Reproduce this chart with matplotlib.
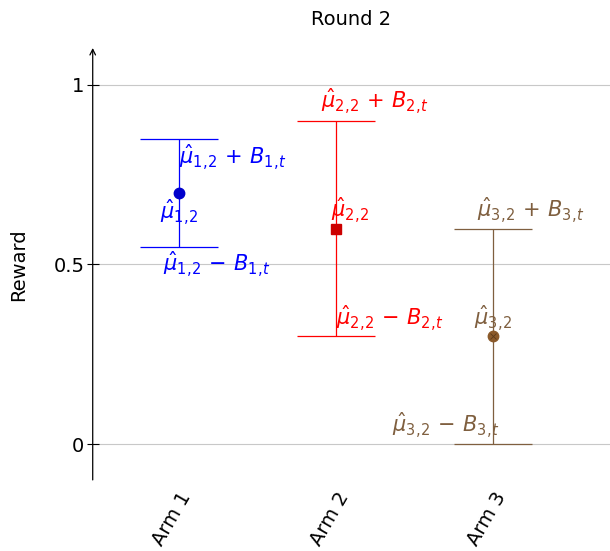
import matplotlib.pyplot as plt

arms = ["Arm 1", "Arm 2", "Arm 3"]
means = [0.7, 0.6, 0.3]
bounds = [0.15, 0.3, 0.3]
colors = ["#0000ff", "#ff0000", "#7f5f3f"]
marker_colors = ["#0000cc", "#cc0000", "#8b5a2b"]
markers = ["o", "s", "o"]

fig = plt.figure(figsize=(6.1, 5.51), dpi=100)
ax = fig.add_axes([0.152, 0.129, 0.848, 0.78])

xs = [1, 2, 3]
for i, x in enumerate(xs):
    ax.errorbar(x, means[i], yerr=bounds[i], fmt="none", ecolor=colors[i],
                elinewidth=0.9, capsize=28, capthick=0.9, zorder=3)
    ax.plot(x, means[i], marker=markers[i], color=marker_colors[i],
            markersize=7.5, linestyle="none", zorder=4,
            markeredgecolor=marker_colors[i])
ax.plot(3, means[2], marker="x", color="#5a3a1a", markersize=5,
        markeredgewidth=0.6, zorder=5)

fs = 15
# arm 1
ax.text(1.0, 0.80, r"$\hat{\mu}_{1,\!2}\,+\,B_{1,\!t}$", color=colors[0], fontsize=fs,
        ha="left", va="center")
ax.text(1.0, 0.645, r"$\hat{\mu}_{1,\!2}$", color=colors[0], fontsize=fs,
        ha="center", va="center")
ax.text(0.9, 0.50, r"$\hat{\mu}_{1,\!2}\,-\,B_{1,\!t}$", color=colors[0], fontsize=fs,
        ha="left", va="center")
# arm 2
ax.text(2.25, 0.955, r"$\hat{\mu}_{2,\!2}\,+\,B_{2,\!t}$", color=colors[1], fontsize=fs,
        ha="center", va="center")
ax.text(2.09, 0.652, r"$\hat{\mu}_{2,\!2}$", color=colors[1], fontsize=fs,
        ha="center", va="center")
ax.text(2.0, 0.351, r"$\hat{\mu}_{2,\!2}\,-\,B_{2,\!t}$", color=colors[1], fontsize=fs,
        ha="left", va="center")
# arm 3
ax.text(3.24, 0.652, r"$\hat{\mu}_{3,\!2}\,+\,B_{3,\!t}$", color=colors[2], fontsize=fs,
        ha="center", va="center")
ax.text(3.0, 0.35, r"$\hat{\mu}_{3,\!2}$", color=colors[2], fontsize=fs,
        ha="center", va="center")
ax.text(3.04, 0.053, r"$\hat{\mu}_{3,\!2}\,-\,B_{3,\!t}$", color=colors[2], fontsize=fs,
        ha="right", va="center")

ax.set_xlim(0.452, 3.745)
ax.set_ylim(-0.1, 1.097)
ax.set_xticks(xs)
ax.set_xticklabels(arms, rotation=60, ha="right", rotation_mode="anchor",
                   fontsize=14)
ax.tick_params(axis="x", length=0, pad=6)
ax.set_yticks([0, 0.5, 1])
ax.set_yticklabels(["0", "0.5", "1"], fontsize=14)
ax.tick_params(axis="y", direction="inout", length=8, width=0.8, pad=2)
ax.grid(axis="y", color="#c8c8c8", linewidth=0.8)
ax.set_axisbelow(True)
for s in ["top", "right", "bottom", "left"]:
    ax.spines[s].set_visible(False)
ax.annotate("", xy=(0, 1.005), xytext=(0, 0), xycoords="axes fraction",
            arrowprops=dict(arrowstyle="->", color="black", lw=0.9,
                            shrinkA=0, shrinkB=0))
ax.set_ylabel("Reward", fontsize=14, labelpad=18)
ax.set_title("Round 2", fontsize=14, pad=18)

plt.savefig("out.png")
